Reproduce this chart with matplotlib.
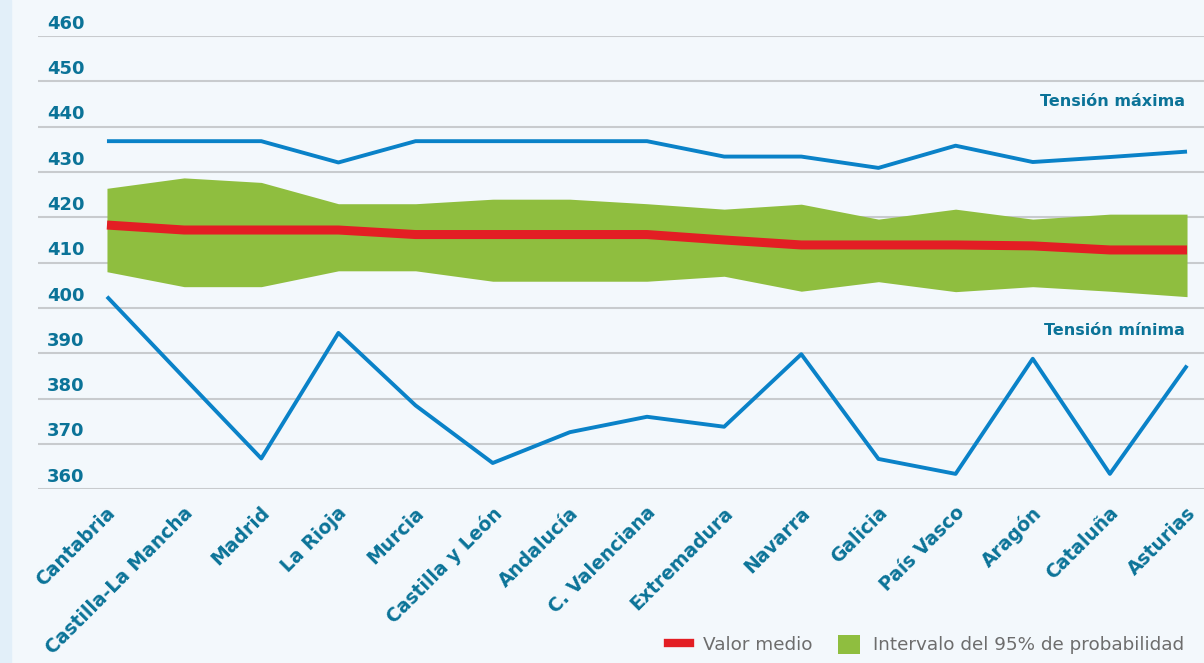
import matplotlib.pyplot as plt
from matplotlib.lines import Line2D
from matplotlib.patches import Patch
import matplotlib.transforms as mtransforms

# comunidades autónomas
regiones = ['Cantabria', 'Castilla-La Mancha', 'Madrid', 'La Rioja', 'Murcia',
            'Castilla y León', 'Andalucía', 'C. Valenciana', 'Extremadura',
            'Navarra', 'Galicia', 'País Vasco', 'Aragón', 'Cataluña', 'Asturias']

# tensiones en kV
tension_max = [436.8, 436.8, 436.8, 432.1, 436.8, 436.8, 436.8, 436.8,
               433.4, 433.4, 430.9, 435.8, 432.2, 433.3, 434.5]
tension_min = [402.5, 384.6, 366.8, 394.5, 378.5, 365.8, 372.6, 376.0,
               373.8, 389.8, 366.7, 363.4, 388.8, 363.4, 387.3]
valor_medio = [418.3, 417.2, 417.2, 417.2, 416.2, 416.2, 416.2, 416.2,
               415.0, 413.9, 413.9, 413.9, 413.7, 412.8, 412.8]
intervalo_sup = [426.4, 428.7, 427.7, 423.0, 423.0, 424.0, 424.0, 423.0,
                 421.8, 422.9, 419.6, 421.8, 419.6, 420.7, 420.7]
intervalo_inf = [408.0, 404.7, 404.7, 408.2, 408.2, 405.9, 405.9, 405.9,
                 407.0, 403.7, 405.8, 403.6, 404.7, 403.7, 402.5]

y_ticks = [360, 370, 380, 390, 400, 410, 420, 430, 440, 450, 460]

azul = '#0a82c8'
rojo = '#e31e24'
verde = '#8fbe3f'
texto = '#0b7398'
fondo = '#f3f8fc'

fig = plt.figure(figsize=(12.04, 6.63), dpi=100)
fig.patch.set_facecolor(fondo)
# franja izquierda
fig.patches.append(plt.Rectangle((0, 0), 11 / 1204, 1, transform=fig.transFigure,
                                 color='#e2eff9', zorder=0))

ax = fig.add_axes([38 / 1204, 1 - 489.3 / 663, 1166 / 1204, 453.3 / 663])
ax.set_facecolor(fondo)
x = list(range(len(regiones)))

ax.fill_between(x, intervalo_inf, intervalo_sup, color=verde, lw=0, zorder=2)
ax.plot(x, valor_medio, color=rojo, lw=6.5, solid_joinstyle='miter',
        solid_capstyle='butt', zorder=3)
ax.plot(x, tension_max, color=azul, lw=2.8, solid_capstyle='butt', zorder=4)
ax.plot(x, tension_min, color=azul, lw=2.8, solid_capstyle='butt', zorder=4)

ax.set_xlim(-0.894, 14.22)
ax.set_ylim(360, 460)
ax.set_yticks(y_ticks)
ax.set_yticklabels([])
ax.set_xticks(x)
ax.set_xticklabels([])
ax.tick_params(length=0)
ax.grid(axis='y', color='#c8cbce', lw=1.5, zorder=1)
for s in ax.spines.values():
    s.set_visible(False)

# etiquetas del eje y encima de cada línea
for v in y_ticks:
    ax.text(0.0077, v + 1.65, str(v), transform=ax.get_yaxis_transform(),
            fontsize=13, fontweight='bold', color=texto, va='baseline', ha='left')

# etiquetas de regiones giradas
off = mtransforms.offset_copy(ax.get_xaxis_transform(), fig=fig, x=-1, y=-14, units='dots')
for i, r in enumerate(regiones):
    ax.text(i, 0, r, transform=off, rotation=45, rotation_mode='anchor',
            ha='right', va='top', fontsize=13.5, fontweight='bold', color=texto)

ax.text(0.9837, 444.6, 'Tensión máxima', transform=ax.get_yaxis_transform(),
        ha='right', va='baseline', fontsize=11.5, fontweight='bold', color=texto)
ax.text(0.9837, 394.0, 'Tensión mínima', transform=ax.get_yaxis_transform(),
        ha='right', va='baseline', fontsize=11.5, fontweight='bold', color=texto)

handles = [Line2D([], [], color=rojo, lw=6),
           Patch(facecolor=verde, edgecolor='none')]
fig.legend(handles, ['Valor medio', 'Intervalo del 95% de probabilidad'],
           loc='lower right', bbox_to_anchor=(0.997, -0.012), ncol=2, frameon=False,
           fontsize=13.2, labelcolor='#6d6d6d', handlelength=1.2, handleheight=1.2,
           columnspacing=1.4, handletextpad=0.7)

fig.savefig('out.png', dpi=100, facecolor=fondo)
